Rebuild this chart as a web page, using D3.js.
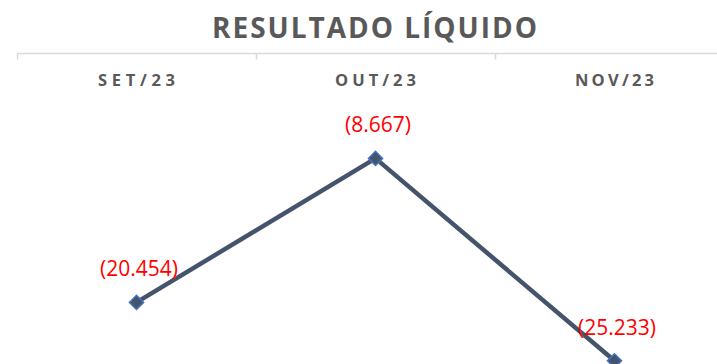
<!DOCTYPE html>
<html>
<head>
<meta charset="utf-8">
<script src="https://cdn.jsdelivr.net/npm/d3@7"></script>
<style>
  html, body { margin: 0; padding: 0; background: #ffffff; }
  svg { display: block; }
</style>
</head>
<body>
<svg id="chart" width="717" height="364"></svg>
<script>
// Net result by month (negative values shown in parentheses)
const categories = ["SET/23", "OUT/23", "NOV/23"];
const values = [-20454, -8667, -25233];
const valueLabels = ["(20.454)", "(8.667)", "(25.233)"];
const title = "RESULTADO LÍQUIDO";

const svg = d3.select("#chart");
const W = 717, H = 364;

// Category bands start at the left edge of the plot and run past the right side
const x = d3.scaleBand().domain(categories).range([17, 734]).paddingInner(0).paddingOuter(0);
// Value axis: zero sits on the category axis at the top, negatives go downward
const y = d3.scaleLinear().domain([0, -30000]).range([52.5, 419]);

// Title
svg.append("text")
  .attr("x", 212).attr("y", 38)
  .attr("textLength", 325).attr("lengthAdjust", "spacing")
  .attr("font-family", "'Open Sans', sans-serif")
  .attr("font-weight", 700)
  .attr("font-size", 28)
  .attr("fill", "#595959")
  .text(title);

// Category axis along the top (crosses at zero)
const axisY = 53.5;
const axis = svg.append("g").attr("class", "cat-axis");
axis.append("line")
  .attr("x1", x.range()[0]).attr("x2", W)
  .attr("y1", axisY).attr("y2", axisY)
  .attr("stroke", "#d9d9d9").attr("stroke-width", 1.5);
const tickPositions = categories.map(c => x(c)).concat([x.range()[1]]);
axis.selectAll("line.tick")
  .data(tickPositions.filter(p => p <= W))
  .join("line")
  .attr("class", "tick")
  .attr("x1", d => d + 0.5).attr("x2", d => d + 0.5)
  .attr("y1", axisY).attr("y2", axisY + 6)
  .attr("stroke", "#d9d9d9").attr("stroke-width", 1.5);

const labelWidths = { "SET/23": 77, "OUT/23": 81, "NOV/23": 79 };
axis.selectAll("text.cat")
  .data(categories)
  .join("text")
  .attr("class", "cat")
  .attr("x", d => x(d) + x.bandwidth() / 2 - labelWidths[d] / 2)
  .attr("y", 86)
  .attr("textLength", d => labelWidths[d]).attr("lengthAdjust", "spacing")
  .attr("font-family", "'Open Sans', sans-serif")
  .attr("font-weight", 700)
  .attr("font-size", 16.5)
  .attr("fill", "#595959")
  .text(d => d);

// Series line
const cx = d => x(d) + x.bandwidth() / 2;
const points = categories.map((c, i) => ({ c, v: values[i], label: valueLabels[i] }));

svg.append("path")
  .datum(points)
  .attr("fill", "none")
  .attr("stroke", "#44546A")
  .attr("stroke-width", 4.5)
  .attr("stroke-linejoin", "round")
  .attr("d", d3.line().x(d => cx(d.c)).y(d => y(d.v)));

// Diamond markers
svg.selectAll("path.marker")
  .data(points)
  .join("path")
  .attr("class", "marker")
  .attr("d", d3.symbol().type(d3.symbolSquare).size(100))
  .attr("transform", d => `translate(${cx(d.c)},${y(d.v)}) rotate(45)`)
  .attr("fill", "#44546A")
  .attr("stroke", "#4472C4")
  .attr("stroke-width", 1.5);

// Data labels
svg.selectAll("text.value")
  .data(points)
  .join("text")
  .attr("class", "value")
  .attr("x", d => cx(d.c) + 2.5)
  .attr("y", d => y(d.v) - 26)
  .attr("text-anchor", "middle")
  .attr("font-family", "'Open Sans', sans-serif")
  .attr("font-size", 21)
  .attr("fill", "#FF0000")
  .text(d => d.label);
</script>
</body>
</html>
